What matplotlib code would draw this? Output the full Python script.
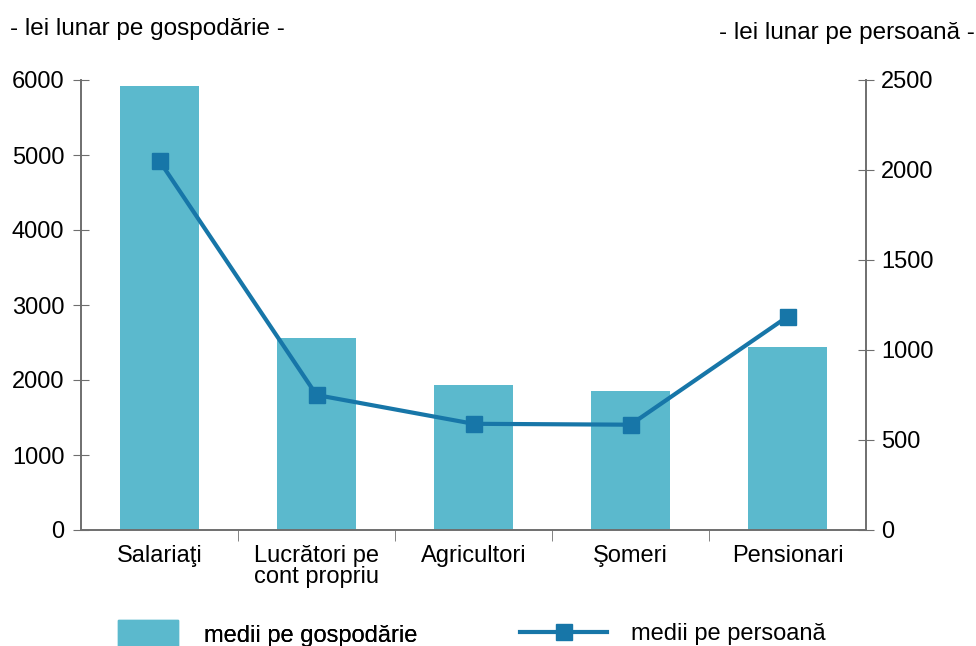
import matplotlib.pyplot as plt
import matplotlib.patches as mpatches
from matplotlib.lines import Line2D

plt.rcParams['font.family'] = ['Liberation Sans', 'DejaVu Sans']

# data
categories = ['Salariaţi', 'Lucrători pe\ncont propriu', 'Agricultori', 'Şomeri', 'Pensionari']
per_household = [5920, 2560, 1930, 1860, 2440]
per_person = [2050, 750, 590, 585, 1185]
left_ticks = [0, 1000, 2000, 3000, 4000, 5000, 6000]
right_ticks = [0, 500, 1000, 1500, 2000, 2500]

bar_color = '#5bb9cd'
line_color = '#1776a8'
axis_color = '#6e6e6e'
fs = 17

fig = plt.figure(figsize=(9.76, 6.46), dpi=100)
ax = fig.add_axes([81 / 976, 116 / 646, 785 / 976, 450 / 646])
ax2 = ax.twinx()

x = list(range(len(categories)))
ax.bar(x, per_household, width=0.5, color=bar_color, zorder=2)
ax2.plot(x, per_person, color=line_color, lw=3, marker='s', markersize=11, zorder=3)

ax.set_xlim(-0.5, len(categories) - 0.5)
ax.set_ylim(0, 6000)
ax2.set_ylim(0, 2500)
ax.set_yticks(left_ticks)
ax2.set_yticks(right_ticks)

# category labels centred under bars, tick marks at the boundaries
ax.set_xticks(x)
ax.set_xticklabels(categories, fontsize=fs, va='top', linespacing=0.95)
ax.tick_params(axis='x', length=0, pad=11)
ax.set_xticks([i + 0.5 for i in x[:-1]], minor=True)
ax.tick_params(axis='x', which='minor', length=8, direction='out', color=axis_color)

ax.tick_params(axis='y', direction='inout', length=12, color=axis_color, labelsize=fs, pad=6)
ax2.tick_params(axis='y', direction='inout', length=12, color=axis_color, labelsize=fs, pad=5)

for a in (ax, ax2):
    a.spines['top'].set_visible(False)
    for s in ('left', 'right', 'bottom'):
        a.spines[s].set_color(axis_color)
        a.spines[s].set_linewidth(1.2)

fig.text(10 / 976, 1 - 29 / 646, '- lei lunar pe gospodărie -', fontsize=17.5, va='center', ha='left')
fig.text(975 / 976, 1 - 33 / 646, '- lei lunar pe persoană -', fontsize=17.5, va='center', ha='right')

# legend, two separate groups along the bottom
bar_handle = mpatches.Patch(color=bar_color, label='medii pe gospodărie')
line_handle = Line2D([], [], color=line_color, lw=3, marker='s', markersize=11,
                     label='medii pe persoană')
leg1 = fig.legend(handles=[bar_handle], loc='center left', bbox_to_anchor=(118 / 976, 12 / 646),
                  frameon=False, fontsize=fs, handlelength=2.55, handleheight=1.4,
                  handletextpad=1.1, borderpad=0, borderaxespad=0)
fig.legend(handles=[line_handle], loc='center left', bbox_to_anchor=(520 / 976, 12 / 646),
           frameon=False, fontsize=fs, handlelength=3.7, handletextpad=1.0,
           borderpad=0, borderaxespad=0)
fig.add_artist(leg1)

fig.savefig('out.png', dpi=100)
